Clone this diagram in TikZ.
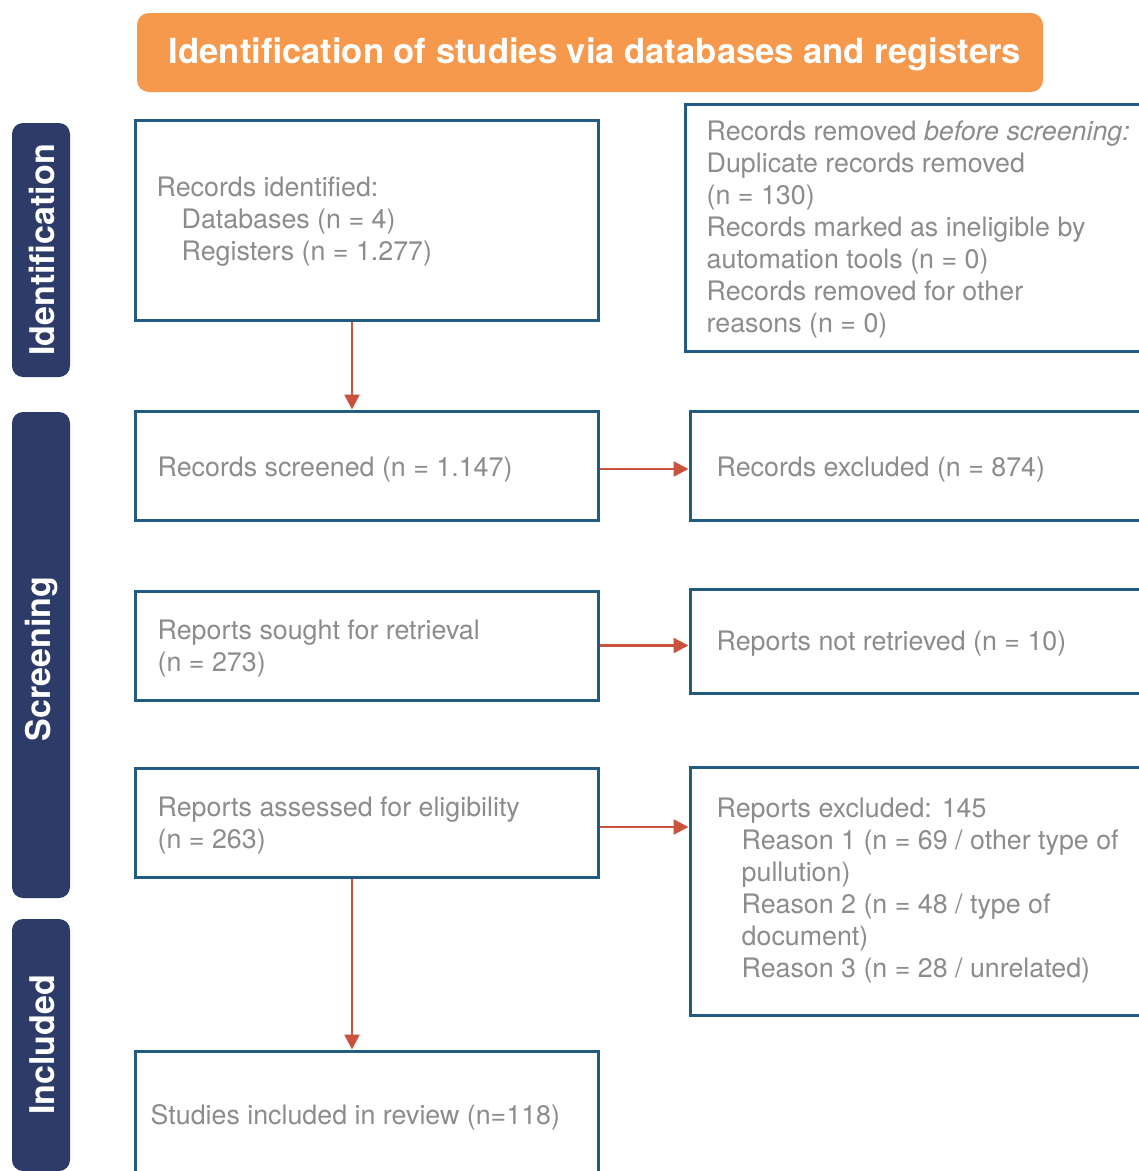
\documentclass[tikz,border=0pt]{standalone}
\usepackage{fontspec}
\setmainfont{TeX Gyre Heros}
\usetikzlibrary{arrows.meta}
\definecolor{boxblue}{HTML}{225B80}
\definecolor{navy}{HTML}{2D3B69}
\definecolor{orangehdr}{HTML}{F7994D}
\definecolor{arrred}{HTML}{C8523B}
\definecolor{txtgrey}{HTML}{8C8C8C}
\tikzset{
  flowbox/.style={draw=boxblue, line width=3pt, fill=white, rectangle, inner sep=0pt, anchor=center},
  txt/.style={align=left, text=txtgrey, font=\fontsize{26.8}{32}\selectfont, inner sep=0pt, anchor=west},
  sidebar/.style={fill=navy, rounded corners=11pt, rectangle, minimum width=58pt, inner sep=0pt},
  sidetxt/.style={text=white, font=\bfseries\fontsize{34}{40}\selectfont, rotate=90, inner sep=0pt},
  arr/.style={draw=arrred, line width=2.5pt, -{Triangle[length=15pt,width=15pt]}}
}
\begin{document}
\begin{tikzpicture}[x=1pt,y=-1pt]
\path[use as bounding box] (0,0) rectangle (1139,1171);
\clip (0,0) rectangle (1139,1171);
\fill[white] (0,0) rectangle (1139,1171);
% header
\node[fill=orangehdr, rounded corners=12pt, minimum width=906pt, minimum height=79pt, inner sep=0pt] (hdr) at (590,52.5) {};
\node[text=white, font=\bfseries\fontsize{34.6}{40}\selectfont, inner sep=0pt] (hdrT) at (595,54)
  {Identification of studies via databases and registers};
% side bars
\node[sidebar, minimum height=254pt] (sbid) at (41,250) {};
\node[sidetxt] (tid) at (42,250) {Identification};
\node[sidebar, minimum height=486pt] (sbsc) at (41,655) {};
\node[sidetxt] (tsc) at (42,659) {Screening};
\node[sidebar, minimum height=252pt] (sbin) at (41,1045) {};
\node[sidetxt] (tin) at (42,1045) {Included};
% left column boxes
\node[flowbox, minimum width=463pt, minimum height=200pt] (ident) at (366.5,220) {};
\node[flowbox, minimum width=463pt, minimum height=109pt] (screen) at (366.5,465.5) {};
\node[flowbox, minimum width=463pt, minimum height=109pt] (sought) at (366.5,645.5) {};
\node[flowbox, minimum width=463pt, minimum height=109pt] (assess) at (366.5,822.5) {};
\node[flowbox, minimum width=463pt, minimum height=128pt] (incl) at (366.5,1115) {};
% right column boxes
\node[flowbox, minimum width=515pt, minimum height=247pt] (removed) at (942.5,227.5) {};
\node[flowbox, minimum width=510pt, minimum height=109pt] (excl) at (945,465.5) {};
\node[flowbox, minimum width=510pt, minimum height=104pt] (notret) at (945,641) {};
\node[flowbox, minimum width=510pt, minimum height=248pt] (repexcl) at (945,891) {};
% texts
\node[txt] (identT) at ([shift={(23pt,-2pt)}]ident.west)
  {Records identified:\\\hspace*{25pt}Databases (n = 4)\\\hspace*{25pt}Registers (n = 1.277)};
\node[txt] (screenT) at ([shift={(24pt,-4pt)}]screen.west) {Records screened (n = 1.147)};
\node[txt] (soughtT) at ([shift={(24pt,-3pt)}]sought.west) {Reports sought for retrieval\\(n = 273)};
\node[txt] (assessT) at ([shift={(24pt,-3pt)}]assess.west) {Reports assessed for eligibility\\(n = 263)};
\node[txt] (inclT) at ([shift={(17pt,-2pt)}]incl.west) {Studies included in review (n=118)};
\node[txt] (removedT) at ([shift={(23pt,-2pt)}]removed.west)
  {Records removed \textit{before screening:}\\Duplicate records removed\\(n = 130)\\Records marked as ineligible by\\automation tools (n = 0)\\Records removed for other\\reasons (n = 0)};
\node[txt] (exclT) at ([shift={(28pt,-4pt)}]excl.west) {Records excluded (n = 874)};
\node[txt] (notretT) at ([shift={(28pt,-3pt)}]notret.west) {Reports not retrieved (n = 10)};
\node[txt] (repexclT) at ([shift={(28pt,0pt)}]repexcl.west)
  {Reports excluded: 145\\\hspace*{25pt}Reason 1 (n = 69 / other type of\\\hspace*{25pt}pullution)\\\hspace*{25pt}Reason 2 (n = 48 / type of\\\hspace*{25pt}document)\\\hspace*{25pt}Reason 3 (n = 28 / unrelated)};
% connectors
\draw[arr] ([xshift=-14.5pt]ident.south) -- ([xshift=-14.5pt]screen.north);
\draw[arr] ([yshift=-3.5pt]screen.east) -- ([yshift=-3.5pt]screen.east -| excl.west);
\draw[arr] (sought.east) -- (sought.east -| notret.west);
\draw[arr] ([yshift=-4.5pt]assess.east) -- ([yshift=-4.5pt]assess.east -| repexcl.west);
\draw[arr] ([xshift=-14.5pt]assess.south) -- ([xshift=-14.5pt]incl.north);
\end{tikzpicture}
\end{document}
